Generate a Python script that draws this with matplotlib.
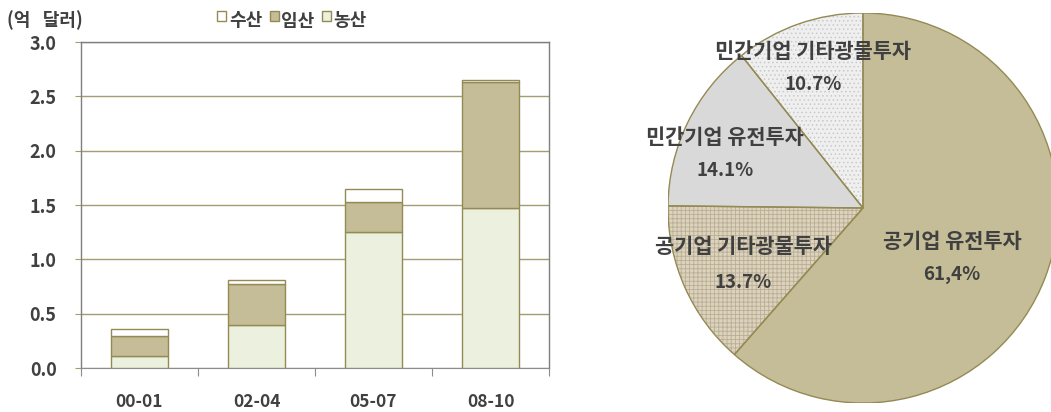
import matplotlib
matplotlib.use("Agg")
import matplotlib.pyplot as plt
from matplotlib.patches import Wedge
import numpy as np

plt.rcParams['font.family'] = ['Noto Sans CJK KR', 'DejaVu Sans']
plt.rcParams['hatch.linewidth'] = 0.6

# stacked bar data (100 million USD)
periods = ["00-01", "02-04", "05-07", "08-10"]
agri = [0.11, 0.40, 1.25, 1.47]      # 농산
forest = [0.18, 0.37, 0.28, 1.16]    # 임산
fish = [0.07, 0.04, 0.12, 0.02]      # 수산

# pie data (%)
pie_names = ["공기업 유전투자", "공기업 기타광물투자", "민간기업 유전투자", "민간기업 기타광물투자"]
pie_shares = [61.4, 13.7, 14.1, 10.7]
pie_pct_text = ["61,4%", "13.7%", "14.1%", "10.7%"]

TXT = "#404040"
EDGE = "#948a54"
W, H = 1051, 412

fig = plt.figure(figsize=(W / 100, H / 100), dpi=100)

# ---- stacked bars ----
ax = fig.add_axes([81 / W, 1 - 368 / H, (549 - 81) / W, (368 - 42) / H])
x = np.arange(len(periods))
bw = 0.49
b1 = ax.bar(x, agri, bw, color="#ebf1de", edgecolor=EDGE, linewidth=1.0, zorder=3, label="농산")
bottom2 = np.array(agri)
b2 = ax.bar(x, forest, bw, bottom=bottom2, color="#c4bd97", edgecolor=EDGE, linewidth=1.0, zorder=3, label="임산")
bottom3 = bottom2 + np.array(forest)
b3 = ax.bar(x, fish, bw, bottom=bottom3, color="white", edgecolor=EDGE, linewidth=1.0, zorder=3, label="수산")

ax.set_xlim(-0.5, len(periods) - 0.5)
ax.set_ylim(0, 3.0)
yt = np.arange(0, 3.01, 0.5)
ax.set_yticks(yt)
ax.set_yticklabels([f"{v:.1f}" for v in yt], fontsize=13, fontweight="bold", color=TXT)
ax.yaxis.grid(True, color="#a39d72", linewidth=1.0, zorder=0)
ax.tick_params(axis="y", length=4.5, color="#a39d72", pad=13)

ax.set_xticks(np.arange(-0.5, len(periods), 1.0))
ax.set_xticklabels([])
ax.tick_params(axis="x", length=5.5, color="#8c8c8c", direction="out")
for i, p in enumerate(periods):
    ax.annotate(p, (i, 0), xytext=(0, -34 / 1.389), textcoords="offset points",
                ha="center", va="center", fontsize=12.5, fontweight="bold", color=TXT, annotation_clip=False)

for side in ["top", "right", "left"]:
    ax.spines[side].set_color("#7f7f7f")
    ax.spines[side].set_linewidth(1.0)
ax.spines["bottom"].set_color("#8c8c8c")

fig.text(7 / W, 1 - 20 / H, "(억   달러)", fontsize=13, fontweight="bold", color=TXT, va="center", ha="left")

leg = fig.legend([b3, b2, b1], ["수산", "임산", "농산"], loc="center", bbox_to_anchor=(292 / W, 1 - 21 / H),
                 ncol=3, frameon=False, handlelength=0.5, handleheight=0.5,
                 handletextpad=0.15, columnspacing=0.4, prop={"weight": "bold", "size": 13})
for t in leg.get_texts():
    t.set_color(TXT)
for hnd in leg.legend_handles:
    hnd.set_y(hnd.get_y() + 3)

# ---- pie ----
R = 195
cx, cy = 863, 208
pax = fig.add_axes([(cx - R) / W, 1 - (cy + R) / H, 2 * R / W, 2 * R / H])
pie_colors = ["#c4bd97", "#ddd3bd", "#d9d9d9", "#efefef"]
pie_hatch = [None, "++++", None, "...."]
pie_hatch_edge = [EDGE, "#b8ae96", EDGE, "#c9c9c9"]
wedges, _ = pax.pie(pie_shares, startangle=90, counterclock=False, colors=pie_colors,
                    wedgeprops=dict(linewidth=0))
for w, h, hc in zip(wedges, pie_hatch, pie_hatch_edge):
    if h:
        w.set_hatch(h)
        w.set_edgecolor(hc)
pax.set_xlim(-1, 1)
pax.set_ylim(-1, 1)
pax.set_aspect("auto")
pax.axis("off")

# outline drawn on top so all slice borders share the olive edge
for w in wedges:
    pax.add_patch(Wedge(w.center, w.r, w.theta1, w.theta2, fill=False,
                        edgecolor=EDGE, linewidth=1.0, zorder=5))

label_pos = [(952, 242, 275), (743, 247, 282), (725, 137, 170), (813, 52, 85)]
for name, pct, (lx, ly1, ly2) in zip(pie_names, pie_pct_text, label_pos):
    fig.text(lx / W, 1 - ly1 / H, name, ha="center", va="center", fontsize=15, color=TXT, fontweight="bold")
    fig.text(lx / W, 1 - ly2 / H, pct, ha="center", va="center", fontsize=13.5, color=TXT, fontweight="bold")

fig.savefig("out.png", dpi=100)
